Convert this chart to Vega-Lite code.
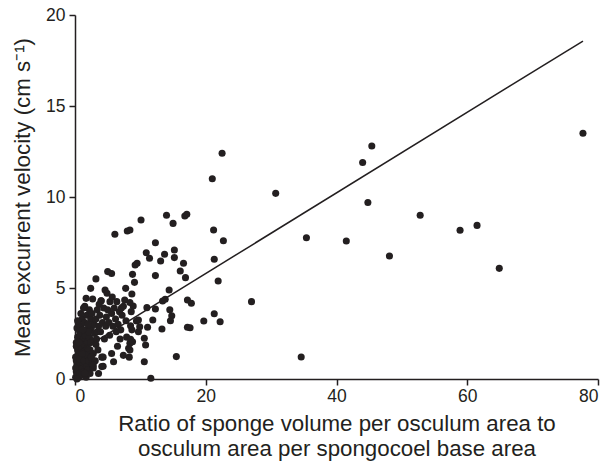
{
  "$schema": "https://vega.github.io/schema/vega-lite/v6.json",
  "width": 523,
  "height": 364,
  "autosize": "none",
  "padding": {"left": 75, "top": 15, "right": 14, "bottom": 85},
  "background": "white",
  "config": {
    "view": {"stroke": null},
    "font": "Liberation Sans",
    "axis": {
      "grid": false,
      "domainColor": "#231f20",
      "domainWidth": 1.5,
      "tickColor": "#231f20",
      "tickWidth": 1.5,
      "tickSize": 6,
      "labelColor": "#231f20",
      "labelFontSize": 17.5,
      "labelFont": "Liberation Sans",
      "titleFont": "Liberation Sans",
      "titleFontWeight": "normal",
      "titleColor": "#231f20",
      "titleFontSize": 22.3
    }
  },
  "layer": [
    {
      "data": {"values": [
        {"x":0.1,"y":0.1},{"x":0.2,"y":0.4},{"x":0.3,"y":0.8},{"x":0.1,"y":1.2},{"x":0.4,"y":1.6},{"x":0.2,"y":2.0},{"x":0.3,"y":0.2},{"x":0.5,"y":0.5},{"x":0.2,"y":1.0},{"x":0.4,"y":2.3},{"x":0.3,"y":2.8},{"x":0.5,"y":1.3},{"x":0.1,"y":0.6},{"x":0.6,"y":0.1},{"x":0.2,"y":1.8},
        {"x":0.7,"y":0.3},{"x":0.8,"y":0.9},{"x":0.9,"y":1.5},{"x":1.0,"y":2.1},{"x":0.7,"y":2.6},{"x":1.1,"y":0.6},{"x":0.8,"y":1.9},{"x":1.0,"y":0.2},{"x":1.2,"y":1.2},{"x":0.9,"y":2.9},{"x":1.1,"y":3.3},{"x":0.6,"y":3.0},{"x":0.8,"y":2.4},{"x":1.2,"y":0.9},{"x":1.0,"y":1.7},{"x":0.7,"y":1.1},
        {"x":1.3,"y":0.4},{"x":1.5,"y":0.3},{"x":1.4,"y":1.0},{"x":1.6,"y":1.6},{"x":1.3,"y":2.2},{"x":1.7,"y":2.7},{"x":1.5,"y":3.1},{"x":1.8,"y":0.7},{"x":1.9,"y":1.3},{"x":1.4,"y":1.9},{"x":1.6,"y":2.4},{"x":1.8,"y":3.5},{"x":2.0,"y":0.5},{"x":1.9,"y":2.0},{"x":1.5,"y":4.0},{"x":1.7,"y":0.1},
        {"x":2.1,"y":1.0},{"x":2.3,"y":1.6},{"x":2.2,"y":2.3},{"x":2.5,"y":2.8},{"x":2.4,"y":3.3},{"x":2.6,"y":0.8},{"x":2.8,"y":1.4},{"x":2.2,"y":3.8},{"x":2.7,"y":2.1},{"x":2.9,"y":3.0},{"x":2.3,"y":0.3},{"x":2.6,"y":3.6},{"x":2.1,"y":2.6},{"x":2.8,"y":0.6},{"x":3.0,"y":2.5},{"x":1.7,"y":4.43},{"x":2.7,"y":4.4},{"x":2.5,"y":1.2},
        {"x":0.4,"y":3.2},{"x":0.9,"y":3.6},{"x":0.3,"y":0.0},{"x":1.2,"y":2.7},{"x":1.9,"y":1.7},{"x":2.4,"y":2.0},{"x":1.1,"y":1.4},{"x":0.6,"y":2.0},{"x":2.0,"y":3.0},{"x":3.2,"y":1.9},{"x":3.4,"y":2.6},{"x":1.3,"y":3.9},
        {"x":3.2,"y":3.3},{"x":3.4,"y":3.8},{"x":3.6,"y":2.9},{"x":3.8,"y":3.5},{"x":4.0,"y":4.3},{"x":3.3,"y":2.2},{"x":3.5,"y":1.6},{"x":4.2,"y":3.1},{"x":4.4,"y":3.9},{"x":4.6,"y":4.89},{"x":4.8,"y":3.4},{"x":3.9,"y":2.6},{"x":4.1,"y":1.2},{"x":4.3,"y":0.7},{"x":3.1,"y":1.0},{"x":4.5,"y":2.2},{"x":3.7,"y":4.1},{"x":4.9,"y":4.71},{"x":5.0,"y":3.8},{"x":4.7,"y":2.9},{"x":3.2,"y":5.5},{"x":2.4,"y":4.98},{"x":3.6,"y":0.3},{"x":2.8,"y":0.77},{"x":4.1,"y":0.68},{"x":1.5,"y":0.31},{"x":4.3,"y":1.2},
        {"x":5.2,"y":3.1},{"x":5.35,"y":4.25},{"x":5.6,"y":3.6},{"x":5.8,"y":2.9},{"x":6.0,"y":3.9},{"x":6.2,"y":3.3},{"x":6.4,"y":4.25},{"x":6.6,"y":3.0},{"x":6.8,"y":3.7},{"x":7.0,"y":2.7},{"x":7.2,"y":3.5},{"x":7.4,"y":4.0},{"x":7.6,"y":4.34},{"x":7.8,"y":3.2},{"x":5.6,"y":1.4},{"x":5.9,"y":0.95},{"x":6.5,"y":1.8},{"x":7.4,"y":1.3},{"x":7.9,"y":2.3},{"x":5.0,"y":5.9},{"x":5.6,"y":5.8},{"x":7.75,"y":4.98},{"x":6.1,"y":7.95},{"x":8.0,"y":8.13},{"x":5.3,"y":2.4},{"x":6.9,"y":2.2},{"x":7.1,"y":3.9},{"x":6.3,"y":2.6},{"x":5.7,"y":4.5},{"x":4.0,"y":4.3},
        {"x":8.5,"y":2.93},{"x":8.6,"y":3.7},{"x":8.9,"y":4.01},{"x":9.4,"y":3.19},{"x":9.7,"y":2.6},{"x":8.4,"y":4.2},{"x":9.7,"y":3.24},{"x":9.9,"y":2.87},{"x":8.7,"y":2.7},{"x":8.4,"y":1.96},{"x":8.3,"y":1.2},{"x":10.6,"y":2.24},{"x":8.5,"y":2.18},{"x":8.8,"y":2.05},{"x":10.8,"y":1.87},{"x":8.2,"y":1.69},{"x":8.4,"y":1.59},{"x":15.5,"y":1.23},{"x":10.6,"y":0.95},{"x":11.6,"y":0.04},
        {"x":14.0,"y":9.0},{"x":15.0,"y":8.55},{"x":16.8,"y":8.96},{"x":17.1,"y":9.05},{"x":10.1,"y":8.74},{"x":8.4,"y":8.19},{"x":12.3,"y":7.49},{"x":10.9,"y":6.94},{"x":11.4,"y":6.63},{"x":13.7,"y":6.85},{"x":15.2,"y":7.09},{"x":15.2,"y":6.67},{"x":13.1,"y":6.48},{"x":16.6,"y":6.36},{"x":9.5,"y":6.36},{"x":9.2,"y":6.26},{"x":16.1,"y":5.93},{"x":16.9,"y":5.57},{"x":8.8,"y":5.75},{"x":12.3,"y":5.68},{"x":9.1,"y":5.31},{"x":14.4,"y":4.89},{"x":8.7,"y":4.67},{"x":13.8,"y":4.38},{"x":13.4,"y":4.29},{"x":17.2,"y":4.34},{"x":11.0,"y":3.92},{"x":12.3,"y":3.85},{"x":14.8,"y":3.48},{"x":14.6,"y":3.2},{"x":11.9,"y":3.24},{"x":11.1,"y":2.84},{"x":13.3,"y":2.75},{"x":17.2,"y":2.84},{"x":14.5,"y":3.8},
        {"x":22.5,"y":12.4},{"x":21.0,"y":11.0},{"x":21.2,"y":8.19},{"x":22.7,"y":7.6},{"x":21.3,"y":6.58},{"x":21.9,"y":5.38},{"x":17.8,"y":4.16},{"x":27.0,"y":4.25},{"x":21.3,"y":3.59},{"x":19.7,"y":3.19},{"x":22.2,"y":3.15},{"x":17.6,"y":2.82},
        {"x":77.7,"y":13.5},{"x":45.4,"y":12.8},{"x":44.0,"y":11.9},{"x":44.8,"y":9.7},{"x":52.8,"y":9.0},{"x":58.9,"y":8.17},{"x":61.5,"y":8.44},{"x":64.9,"y":6.08},{"x":48.1,"y":6.76},{"x":41.5,"y":7.58},{"x":35.4,"y":7.76},{"x":30.7,"y":10.2},{"x":34.6,"y":1.21}
      ]},
      "mark": {"type": "circle", "size": 50, "opacity": 1, "color": "#231f20"},
      "encoding": {
        "x": {"field": "x", "type": "quantitative", "scale": {"domain": [0, 80], "nice": false},
              "axis": {"values": [0, 20, 40, 60, 80], "title": ["Ratio of sponge volume per osculum area to", "osculum area per spongocoel base area"], "titlePadding": 8, "titleLineHeight": 25, "labelPadding": 2}},
        "y": {"field": "y", "type": "quantitative", "scale": {"domain": [0, 20], "nice": false},
              "axis": {"values": [0, 5, 10, 15, 20], "title": "Mean excurrent velocity (cm s⁻¹)", "titlePadding": 11, "labelPadding": 4}}
      }
    },
    {
      "data": {"values": [{"x": 0, "y": 1.37}, {"x": 77.7, "y": 18.57}]},
      "mark": {"type": "line", "color": "#231f20", "strokeWidth": 1.5},
      "encoding": {
        "x": {"field": "x", "type": "quantitative"},
        "y": {"field": "y", "type": "quantitative"}
      }
    }
  ]
}
